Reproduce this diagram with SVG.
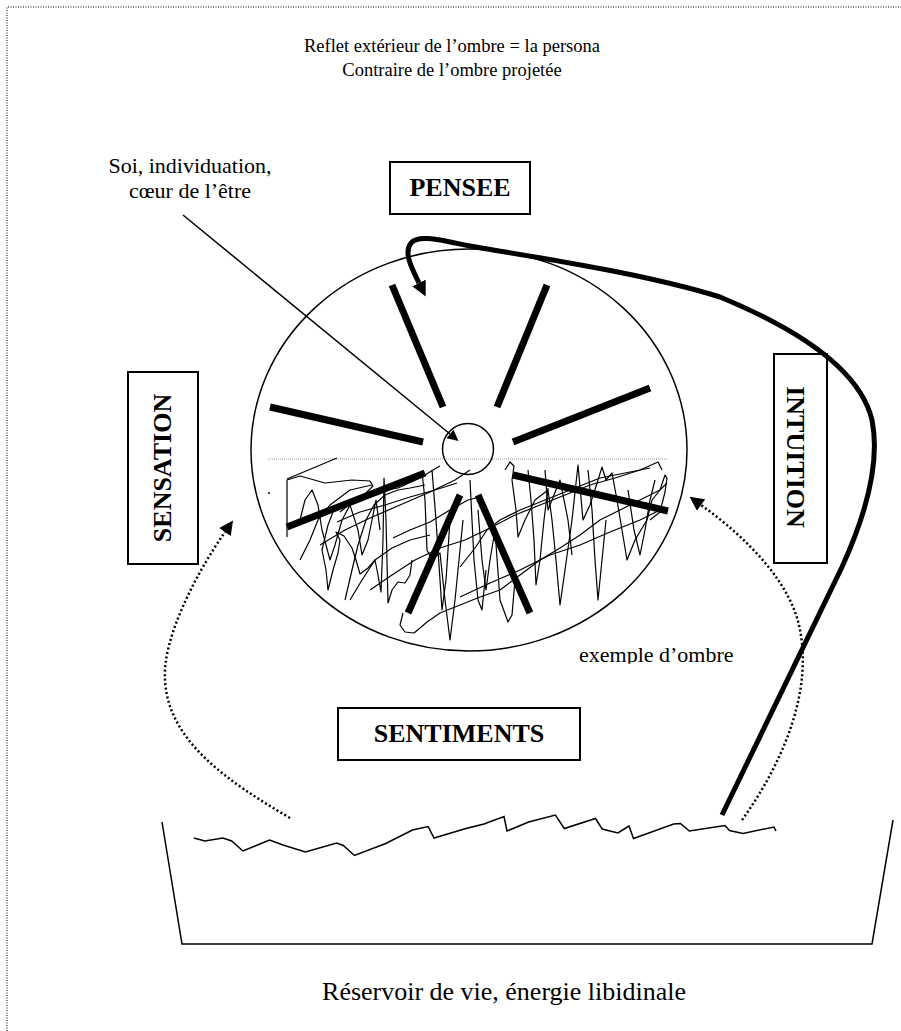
<svg xmlns="http://www.w3.org/2000/svg" width="901" height="1031" viewBox="0 0 901 1031">
<style>
text{font-family:"Liberation Serif","Times New Roman",serif;fill:#000}
.lbl{font-size:18.5px}
.big{font-size:26px;font-weight:bold}
.box{fill:#fff;stroke:#000;stroke-width:2}
.spoke{stroke:#000;stroke-width:7;stroke-linecap:butt}
.thin{fill:none;stroke:#000;stroke-width:1.5}
.scr{fill:none;stroke:#000;stroke-width:1.2;stroke-linejoin:round}
.dot{fill:none;stroke:#000;stroke-width:2.5;stroke-dasharray:2 2.5}
.border{fill:none;stroke:#000;stroke-width:1;stroke-dasharray:1 1.5}
.thick{fill:none;stroke:#000;stroke-width:5;stroke-linejoin:round}
</style>
<defs>
<marker id="ahS" viewBox="0 0 10 10" refX="0" refY="5" markerWidth="13" markerHeight="11" markerUnits="userSpaceOnUse" orient="auto"><path d="M0,0L10,5L0,10z" fill="#000"/></marker>
<marker id="ahD" viewBox="0 0 10 10" refX="0" refY="5" markerWidth="15" markerHeight="14" markerUnits="userSpaceOnUse" orient="auto"><path d="M0,0L10,5L0,10z" fill="#000"/></marker>
<marker id="ahT" viewBox="0 0 10 10" refX="0" refY="5" markerWidth="15" markerHeight="15" markerUnits="userSpaceOnUse" orient="auto"><path d="M0,0L10,5L0,10z" fill="#000"/></marker>
<clipPath id="clipEx"><rect x="-5" y="-30" width="200" height="31.5"/></clipPath>
</defs>

<path class="border" d="M7,1031V7H901"/>

<g id="title">
<text class="lbl" x="452" y="52" text-anchor="middle">Reflet extérieur de l’ombre = la persona</text>
<text class="lbl" x="452" y="76" text-anchor="middle">Contraire de l’ombre projetée</text>
</g>

<g id="soi-label">
<text class="lbl" transform="translate(190,173) scale(1.19)" text-anchor="middle">Soi, individuation,</text>
<text class="lbl" transform="translate(190,198) scale(1.19)" text-anchor="middle">cœur de l’être</text>
</g>

<g id="pensee">
<rect class="box" x="390" y="162" width="140" height="52"/>
<text class="big" x="460" y="196" text-anchor="middle">PENSEE</text>
</g>

<g id="sensation">
<rect class="box" x="128" y="372" width="70" height="192"/>
<text class="big" transform="translate(171,468) rotate(-90)" text-anchor="middle">SENSATION</text>
</g>

<g id="intuition">
<rect class="box" x="774" y="354" width="53" height="209"/>
<text class="big" transform="translate(787,457) rotate(90)" text-anchor="middle">INTUITION</text>
</g>

<g id="sentiments">
<rect class="box" x="338" y="708" width="242" height="52"/>
<text class="big" x="459" y="742" text-anchor="middle">SENTIMENTS</text>
</g>

<g id="psyche">
<ellipse cx="469" cy="450" rx="218" ry="201" fill="none" stroke="#000" stroke-width="1.5"/>
<line x1="268" y1="459" x2="668" y2="459" stroke="#999" stroke-width="1" stroke-dasharray="1 1"/>
<circle cx="269" cy="493" r="1" fill="#000"/>
<g id="ombre">
<polyline class="scr" points="287,537 287,480 300,476 325,483 352,480 370,481 373,486 365,494 355,500 345,506 333,512 328,525 322,550 326,570 328,590 333,570 338,553 340,540 336,532 344,536 352,548 356,560 360,574 368,568 375,560 378,575 381,592 383,540 384,478 386,520 388,603 392,590 398,582 405,583 410,575 412,560"/>
<polyline class="scr" points="337,458 287,479"/>
<polyline class="scr" points="337,522 360,512 385,505 410,497 435,490 457,483"/>
<polyline class="scr" points="393,538 410,530 430,522 450,510 468,500 480,497"/>
<polyline class="scr" points="340,512 355,500 375,492 398,488 420,478 433,470 440,466"/>
<polyline class="scr" points="422,472 425,500 427,550 432,560 440,553 445,600 450,640 455,600 460,550 463,520"/>
<polyline class="scr" points="403,613 400,625 405,632 414,633 420,628 427,622 440,613 460,605 480,597 500,590 520,575 540,560 560,548 580,535 600,520 620,510 640,500 660,490 667,483"/>
<polyline class="scr" points="505,470 510,462 514,466 512,480 516,510 518,537 525,520 535,500 548,490 552,520 556,560 560,605 565,570 572,520 578,465 583,520 590,505 598,480 602,467 606,480 612,473 617,500 622,530 627,560 635,540 647,520 652,500 660,490 665,475 667,478 665,492 660,512 650,520"/>
<polyline class="scr" points="460,597 490,583 520,570 550,555 580,545 610,532 640,520 660,510"/>
<polyline class="scr" points="460,567 475,548 487,530 500,520 520,510 545,500 570,490 600,478 630,472 650,468"/>
<polyline class="scr" points="478,510 482,560 486,590 490,560 495,530 500,600 508,622 512,615 515,580"/>
<polyline class="scr" points="300,560 310,540 318,520 330,505 350,490 372,485"/>
<polyline class="scr" points="350,600 362,580 375,560 392,548 410,540 430,535"/>
<polyline class="scr" points="300,520 305,500 312,490 318,505 322,530 330,560 335,545 342,520 350,505 358,530 362,555 368,540 372,520 376,500 380,530"/>
<polyline class="scr" points="345,600 352,570 358,545 366,520 374,505 385,495 398,490 410,488 425,485"/>
<polyline class="scr" points="320,545 345,530 370,518 400,505 430,492 455,480 470,470"/>
<polyline class="scr" points="370,590 392,575 415,560 440,548 465,540 490,528 515,515 540,505 565,495 590,485 615,478 640,470 658,462 662,470"/>
<polyline class="scr" points="528,470 531,500 534,540 536,585 540,560 544,520 548,488"/>
<polyline class="scr" points="588,470 592,510 595,560 598,600 602,560 606,520"/>
<polyline class="scr" points="628,490 634,530 640,555 645,530 650,500 655,480"/>
<polyline class="scr" points="432,470 436,520 440,580 442,610 446,580 450,520"/>
<polyline class="scr" points="470,480 472,520 474,560 478,600 482,610 486,570"/>
<polyline class="scr" points="545,470 548,510 560,480 568,520 572,555"/>
</g>
<line class="spoke" x1="392" y1="285" x2="443" y2="407"/>
<line class="spoke" x1="547" y1="285" x2="497" y2="407"/>
<line class="spoke" x1="270" y1="407" x2="423" y2="442"/>
<line class="spoke" x1="650" y1="388" x2="513" y2="442"/>
<line class="spoke" x1="287" y1="527" x2="425" y2="473"/>
<line class="spoke" x1="460" y1="495" x2="408" y2="613"/>
<line class="spoke" x1="478" y1="495" x2="530" y2="613"/>
<line class="spoke" x1="513" y1="475" x2="668" y2="511"/>
</g>

<g id="soi">
<circle cx="468" cy="449" r="25.5" fill="none" stroke="#000" stroke-width="1.5"/>
</g>

<g id="exemple">
<g transform="translate(579,662) scale(1.19)">
<text class="lbl" x="0" y="0" clip-path="url(#clipEx)">exemple d’ombre</text>
</g>
</g>

<g id="reservoir">
<path d="M162,822 L182,944 L872,944 L893,820" fill="none" stroke="#000" stroke-width="1.5"/>
<polyline class="thin" points="193.8,838 204.9,841 222.8,838 231.7,841 242.9,851 269.6,840 283,845 305.4,852 336.6,843 343.3,845.5 354.5,855.5 385.7,843.5 412.5,830 428.1,826.5 434,838 466,828.5 484,824 504,816.5 507,831 528.6,822 555.4,815 564.3,828.5 595.5,818.5 602.2,829 617.9,833 629,826 633.5,838.5 673.7,824 680.4,823.5 689.3,831 725,825.5 729.5,830.5 742.9,833.5 774,827 776,831"/>
<text class="lbl" transform="translate(504,1000) scale(1.405)" text-anchor="middle">Réservoir de vie, énergie libidinale</text>
</g>

<g id="connectors">
<path class="thin" d="M183,215 L450,434" marker-end="url(#ahS)"/>
<path class="dot" d="M290,818 C225,780 168,740 165,680 C162,640 195,575 225,532" marker-end="url(#ahD)"/>
<path class="dot" d="M742,820 C785,760 812,690 800,630 C792,585 750,540 701,505" marker-end="url(#ahD)"/>
<path class="thick" d="M722,815 L842,567 C868,510 880,460 872,420 C860,370 800,330 720,297 C640,272 520,255 470,246 C440,240 418,234 411,243 C404,252 410,265 419,283" marker-end="url(#ahT)"/>
</g>
</svg>
